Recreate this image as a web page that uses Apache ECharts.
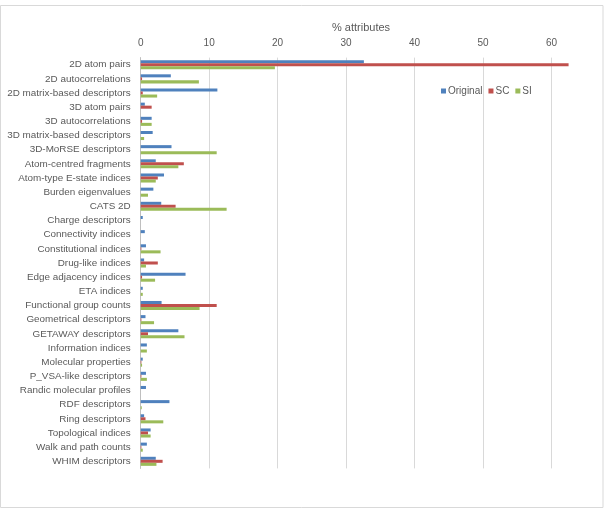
<!DOCTYPE html>
<html>
<head>
<meta charset="utf-8">
<script src="https://cdn.jsdelivr.net/npm/echarts@6/dist/echarts.min.js"></script>
<style>
  html, body { margin: 0; padding: 0; background: #fff; }
  #main { width: 606px; height: 512px; }
</style>
</head>
<body>
<div id="main"></div>
<script>
var categories = [
	'2D atom pairs', '2D autocorrelations', '2D matrix-based descriptors', '3D atom pairs',
	'3D autocorrelations', '3D matrix-based descriptors', '3D-MoRSE descriptors',
	'Atom-centred fragments', 'Atom-type E-state indices', 'Burden eigenvalues', 'CATS 2D',
	'Charge descriptors', 'Connectivity indices', 'Constitutional indices', 'Drug-like indices',
	'Edge adjacency indices', 'ETA indices', 'Functional group counts', 'Geometrical descriptors',
	'GETAWAY descriptors', 'Information indices', 'Molecular properties', 'P_VSA-like descriptors',
	'Randic molecular profiles', 'RDF descriptors', 'Ring descriptors', 'Topological indices',
	'Walk and path counts', 'WHIM descriptors'
];
var originalValues = [32.6, 4.4, 11.2, 0.6, 1.6, 1.75, 4.5, 2.2, 3.4, 1.85, 3.0, 0.3, 0.6, 0.77, 0.5,
	6.55, 0.3, 3.05, 0.7, 5.5, 0.9, 0.3, 0.77, 0.77, 4.2, 0.5, 1.45, 0.9, 2.2];
var scValues = [62.5, 0.2, 0.3, 1.6, 0.2, 0, 0, 6.3, 2.5, 0, 5.1, 0, 0, 0.1, 2.5,
	0.2, 0, 11.1, 0.1, 1.07, 0, 0.1, 0.1, 0, 0, 0.7, 1.07, 0.1, 3.2];
var siValues = [19.6, 8.5, 2.4, 0, 1.6, 0.5, 11.1, 5.5, 2.2, 1.07, 12.55, 0, 0, 2.9, 0.77,
	2.1, 0.3, 8.6, 1.95, 6.4, 0.9, 0.2, 0.9, 0, 0.15, 3.3, 1.45, 0.3, 2.3];
var xTicks = [0, 10, 20, 30, 40, 50, 60];

var myChart = echarts.init(document.getElementById('main'));
var font = 'Liberation Sans';
var option = {
	animation: false,
	textStyle: { fontFamily: font },
	color: ['#4F81BD', '#C0504D', '#9BBB59'],
	graphic: [{
		type: 'rect',
		shape: { x: 0.5, y: 5.5, width: 602.5, height: 502 },
		style: { fill: 'none', stroke: '#D9D9D9', lineWidth: 1 }
	}, {
		type: 'text',
		left: 332, top: 22,
		style: { text: '% attributes', fill: '#595959', font: '11px ' + font }
	}],
	legend: {
		data: ['Original', 'SC', 'SI'],
		left: 436, top: 81,
		itemWidth: 5, itemHeight: 5, itemGap: 6,
		icon: 'rect',
		textStyle: { color: '#595959', fontSize: 10, padding: [0, 0, 0, -3] }
	},
	grid: { left: 140.7, right: 34, top: 57.6, bottom: 43.6, containLabel: false },
	xAxis: {
		type: 'value',
		position: 'top',
		min: xTicks[0], max: 63, interval: 10,
		axisLine: { show: false },
		axisTick: { show: false },
		splitLine: { show: true, showMaxLine: false, lineStyle: { color: '#D9D9D9' } },
		axisLabel: {
			color: '#595959', fontSize: 10, margin: 9, showMaxLabel: false,
			formatter: function (v) { return xTicks.indexOf(v) >= 0 ? String(v) : ''; }
		}
	},
	yAxis: {
		type: 'category',
		data: categories,
		inverse: true,
		axisLine: { show: true, lineStyle: { color: '#BFBFBF' } },
		axisTick: { show: false },
		axisLabel: { color: '#595959', fontSize: 9.9, margin: 10, interval: 0 }
	},
	series: [
		{ name: 'Original', type: 'bar', data: originalValues, barGap: '0%', barCategoryGap: '36%' },
		{ name: 'SC', type: 'bar', data: scValues, barGap: '0%', barCategoryGap: '36%' },
		{ name: 'SI', type: 'bar', data: siValues, barGap: '0%', barCategoryGap: '36%' }
	]
};
myChart.setOption(option);
</script>
</body>
</html>
